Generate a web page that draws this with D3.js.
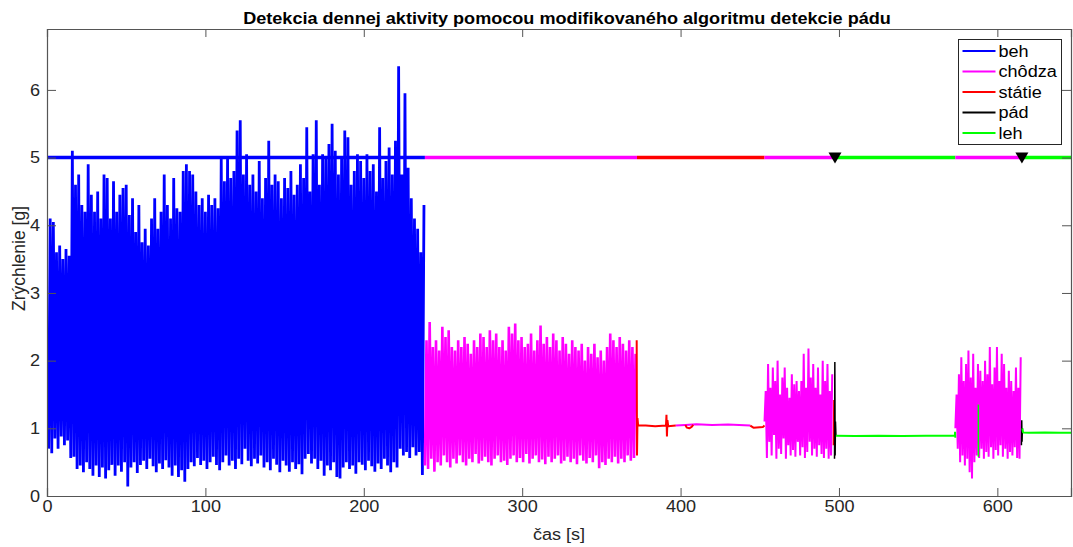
<!DOCTYPE html>
<html>
<head>
<meta charset="utf-8">
<script src="https://cdn.jsdelivr.net/npm/d3@7"></script>
<style>
    body { margin: 0; background: #fff; }
    text { font-family: "Liberation Sans", Arial, sans-serif; }
</style>
</head>
<body>
<svg id="chart" width="1073" height="547"></svg>
<script>
// activity classes (legend order)
const activities = ["beh", "chôdza", "státie", "pád", "leh"]
const activityColors = ["#0000ff", "#ff00ff", "#ff0000", "#000000", "#00ff00"]

// detected activity, drawn as the line at y = 5
const stateLevel = 5
const stateStart = [0, 238.6, 372.5, 453, 498, 573.5, 615.5]
const stateEnd = [238.6, 372.5, 453, 498, 573.5, 615.5, 646.5]
const stateActivity = [0, 1, 2, 1, 4, 1, 4]
const fallTimes = [497.5, 615.5]

// running: trough at start + i*step, peak half a step later
const behStart = 1, behStep = 2
const behPeaks = [
    4.1, 4.05, 3.6, 3.7, 3.5, 3.65, 3.55, 5.1, 4.6, 4.75,
    4.3, 4.2, 4.9, 4.45, 4.2, 4.5, 4.1, 4.75, 4.7, 4.1,
    4.65, 4.2, 4.45, 4.55, 4.6, 4.15, 4.4, 3.9, 4.3, 3.75,
    3.95, 3.7, 4.1, 4.4, 3.95, 4.2, 4.75, 4.3, 4.1, 4.7,
    4.25, 4.2, 4.8, 4.9, 4.8, 4.75, 4.5, 4.3, 4.4, 4.2,
    4.45, 4.3, 4.4, 4.25, 5.0, 4.65, 5.0, 4.7, 4.8, 5.4,
    5.55, 4.75, 5.05, 4.6, 4.75, 4.5, 4.95, 4.4, 4.7, 5.25,
    4.6, 4.75, 4.65, 4.4, 4.7, 4.55, 4.8, 4.45, 4.6, 4.9,
    4.7, 5.45, 4.5, 5.05, 5.55, 4.6, 5.05, 5.0, 5.2, 5.5,
    5.1, 4.75, 5.0, 5.4, 5.3, 4.6, 4.8, 5.05, 4.95, 4.7,
    5.05, 4.8, 4.9, 4.5, 5.45, 4.7, 4.95, 5.15, 4.75, 5.25,
    6.35, 4.75, 5.95, 4.85, 4.4, 4.1, 3.95, 3.6, 4.3
]
const behTroughs = [
    0.7, 0.63, 0.85, 0.7, 0.88, 0.75, 0.82, 0.56, 0.58, 0.4,
    0.45, 0.35, 0.5, 0.4, 0.3, 0.45, 0.28, 0.42, 0.26, 0.38,
    0.46, 0.3, 0.45, 0.36, 0.5, 0.14, 0.42, 0.5, 0.34, 0.46,
    0.52, 0.4, 0.55, 0.44, 0.35, 0.48, 0.4, 0.53, 0.42, 0.3,
    0.45, 0.28, 0.38, 0.21, 0.4, 0.5, 0.44, 0.56, 0.46, 0.52,
    0.4, 0.5, 0.58, 0.46, 0.38, 0.5, 0.6, 0.45, 0.52, 0.4,
    0.55, 0.47, 0.7, 0.52, 0.44, 0.55, 0.48, 0.6, 0.42, 0.5,
    0.38, 0.55, 0.46, 0.35, 0.52, 0.45, 0.36, 0.5, 0.4, 0.47,
    0.32, 0.55, 0.62, 0.48, 0.55, 0.4, 0.52, 0.3, 0.45, 0.38,
    0.5, 0.28, 0.26, 0.42, 0.5, 0.4, 0.45, 0.33, 0.5, 0.46,
    0.38, 0.52, 0.44, 0.36, 0.48, 0.4, 0.55, 0.45, 0.35, 0.5,
    0.42, 0.7, 0.6, 0.65, 0.56, 0.72, 0.6, 0.65, 0.31
]

// walking
const chodza1Start = 238.6, chodza1Step = 2
const chodza1Peaks = [
    2.3, 2.57, 2.2, 2.3, 2.15, 2.5, 2.35, 2.45, 2.2, 2.15,
    2.3, 2.2, 2.35, 2.25, 2.1, 2.3, 2.2, 2.4, 2.35, 2.2,
    2.45, 2.3, 2.4, 2.2, 2.3, 2.15, 2.5, 2.4, 2.55, 2.3,
    2.35, 2.2, 2.25, 2.4, 2.15, 2.3, 2.52, 2.25, 2.35, 2.2,
    2.4, 2.3, 2.15, 2.35, 2.25, 2.1, 2.3, 2.2, 2.15, 2.25,
    2.0, 2.2, 2.1, 2.25, 2.05, 2.15, 2.0, 2.2, 2.4, 2.3,
    2.2, 2.35, 2.25, 2.15, 2.3, 2.2, 2.1
]
const chodza1Troughs = [
    0.45, 0.4, 0.55, 0.36, 0.5, 0.45, 0.6, 0.5, 0.42, 0.55,
    0.48, 0.6, 0.5, 0.45, 0.55, 0.5, 0.62, 0.48, 0.52, 0.58,
    0.5, 0.45, 0.55, 0.6, 0.5, 0.52, 0.46, 0.55, 0.6, 0.5,
    0.56, 0.5, 0.62, 0.48, 0.55, 0.6, 0.5, 0.54, 0.47, 0.58,
    0.5, 0.55, 0.6, 0.48, 0.52, 0.58, 0.5, 0.55, 0.47, 0.6,
    0.52, 0.48, 0.56, 0.5, 0.6, 0.41, 0.5, 0.46, 0.55, 0.5,
    0.58, 0.48, 0.55, 0.5, 0.6, 0.52, 0.56
]

const chodza2Start = 453, chodza2Step = 1.5
const chodza2Peaks = [
    1.55, 1.95, 1.6, 1.9, 1.7, 2.0, 1.5, 1.75, 1.9, 1.6,
    1.45, 1.8, 1.65, 1.7, 1.55, 1.7, 2.1, 1.6, 2.18, 1.75,
    1.95, 1.6, 1.9, 1.5, 2.0, 1.7, 1.95, 1.55, 1.8
]
const chodza2Troughs = [
    1.1, 0.56, 0.8, 0.6, 0.9, 0.55, 0.7, 0.62, 0.85, 0.55,
    0.75, 0.6, 0.68, 0.58, 0.8, 0.6, 0.72, 0.56, 0.65, 0.8,
    0.6, 0.7, 0.58, 0.75, 0.62, 0.56, 0.7, 0.55, 0.6
]

const chodza3Start = 573.5, chodza3Step = 1.5
const chodza3Peaks = [
    1.5, 1.8, 2.05, 1.7, 1.95, 2.15, 1.75, 2.1, 1.6, 1.95,
    1.85, 1.7, 2.0, 1.8, 2.2, 1.65, 1.9, 2.2, 1.7, 2.1,
    1.95, 1.6, 1.85, 1.7, 1.55, 1.9, 1.6, 2.05
]
const chodza3Troughs = [
    1.0, 0.7, 0.5, 0.6, 0.45, 0.55, 0.35, 0.26, 0.5, 0.6,
    0.56, 0.7, 0.55, 0.65, 0.58, 0.72, 0.55, 0.68, 0.6, 0.75,
    0.58, 0.7, 0.55, 0.65, 0.6, 0.72, 0.56, 0.55
]

// quiet parts: sample times and values
const statie1Times = [372.3, 372.5, 372.8, 373.2, 378, 384, 390.8, 391.1, 391.4, 391.7, 392.2, 397]
const statie1Values = [2.3, 0.6, 1.15, 1.04, 1.04, 1.03, 1.04, 1.2, 0.88, 1.12, 1.03, 1.04]
const chodzaLowTimes = [397, 403, 410, 420, 430, 444]
const chodzaLowValues = [1.04, 1.05, 1.06, 1.05, 1.055, 1.04]
const statie2Times = [403, 404, 405.5, 407, 408]
const statie2Values = [1.05, 1.01, 1.0, 1.02, 1.05]
const statie3Times = [444, 446, 452, 453]
const statie3Values = [1.04, 1.01, 1.02, 1.04]
const statie4Times = [496.5, 496.8, 497.1]
const statie4Values = [0.75, 1.42, 0.9]
const pad1Times = [497.2, 497.4, 497.6, 497.8, 498.1]
const pad1Values = [0.55, 1.98, 0.6, 1.1, 0.89]
const leh1Times = [498.1, 510, 525, 540, 555, 573.2, 573.3, 573.5]
const leh1Values = [0.89, 0.885, 0.89, 0.885, 0.89, 0.89, 0.95, 0.86]
const leh2Times = [588, 588]
const leh2Values = [0.58, 1.35]
const pad2Times = [615.2, 615.4, 615.6, 615.8]
const pad2Values = [0.75, 1.12, 0.8, 1.0]
const leh3Times = [615.8, 616.2, 620, 630, 640, 646.5]
const leh3Values = [1.0, 0.94, 0.935, 0.94, 0.935, 0.935]

const xTicks = [0, 100, 200, 300, 400, 500, 600]
const yTicks = [0, 1, 2, 3, 4, 5, 6]

const titleText = "Detekcia dennej aktivity pomocou modifikovaného algoritmu detekcie pádu"
const xLabel = "čas [s]"
const yLabel = "Zrýchlenie [g]"

const margin = {top: 29, right: 2, bottom: 51, left: 47}
const width = 1073, height = 547
const stretch = 1.13   // text in the source figure is a bit wide

const svg = d3.select("#chart")

const x = d3.scaleLinear().domain([0, 646.5]).range([margin.left, width - margin.right])
const y = d3.scaleLinear().domain([0, 6.9]).range([height - margin.bottom, margin.top])

svg.append("defs").append("clipPath").attr("id", "plotClip")
    .append("rect")
    .attr("x", margin.left).attr("y", margin.top)
    .attr("width", x.range()[1] - margin.left)
    .attr("height", y.range()[0] - margin.top)

function zigzag(start, step, peaks, troughs){
    let pts = []
    peaks.forEach((p, i) => {
        pts.push([start + i * step, troughs[i]])
        pts.push([start + (i + 0.5) * step, p])
    })
    return pts
}

function pairs(times, values){
    return times.map((t, i) => [t, values[i]])
}

const traces = [
    {act: 0, pts: zigzag(behStart, behStep, behPeaks, behTroughs), w: 2.8},
    {act: 1, pts: zigzag(chodza1Start, chodza1Step, chodza1Peaks, chodza1Troughs), w: 2.6},
    {act: 2, pts: pairs(statie1Times, statie1Values), w: 2},
    {act: 1, pts: pairs(chodzaLowTimes, chodzaLowValues), w: 2},
    {act: 2, pts: pairs(statie2Times, statie2Values), w: 2},
    {act: 2, pts: pairs(statie3Times, statie3Values), w: 2},
    {act: 1, pts: zigzag(chodza2Start, chodza2Step, chodza2Peaks, chodza2Troughs), w: 2},
    {act: 2, pts: pairs(statie4Times, statie4Values), w: 1.5},
    {act: 3, pts: pairs(pad1Times, pad1Values), w: 1.5},
    {act: 4, pts: pairs(leh1Times, leh1Values), w: 2},
    {act: 1, pts: zigzag(chodza3Start, chodza3Step, chodza3Peaks, chodza3Troughs), w: 2},
    {act: 4, pts: pairs(leh2Times, leh2Values), w: 1.5},
    {act: 3, pts: pairs(pad2Times, pad2Values), w: 1.5},
    {act: 4, pts: pairs(leh3Times, leh3Values), w: 2}
]

const line = d3.line().x(d => x(d[0])).y(d => y(d[1]))

const plot = svg.append("g").attr("clip-path", "url(#plotClip)")

plot.selectAll("path.signal")
    .data(traces)
    .join("path")
    .attr("class", "signal")
    .attr("d", d => line(d.pts))
    .attr("fill", "none")
    .attr("stroke", d => activityColors[d.act])
    .attr("stroke-width", d => d.w)
    .attr("stroke-linejoin", "bevel")

// classification line
plot.selectAll("line.state")
    .data(stateStart)
    .join("line")
    .attr("class", "state")
    .attr("x1", d => x(d))
    .attr("x2", (d, i) => x(stateEnd[i]))
    .attr("y1", y(stateLevel))
    .attr("y2", y(stateLevel))
    .attr("stroke", (d, i) => activityColors[stateActivity[i]])
    .attr("stroke-width", 3.5)

// fall markers
plot.selectAll("path.fall")
    .data(fallTimes)
    .join("path")
    .attr("class", "fall")
    .attr("d", d => {
        const cx = x(d), cy = y(stateLevel)
        return `M${cx - 6.5},${cy - 5}L${cx + 6.5},${cy - 5}L${cx},${cy + 6}Z`
    })
    .attr("fill", "#000")

// axes
const axisColor = "#262626"
const gx = svg.append("g")
    .attr("transform", `translate(0,${y.range()[0]})`)
    .call(d3.axisBottom(x).tickValues(xTicks).tickSize(-8).tickPadding(5))
const gxTop = svg.append("g")
    .attr("transform", `translate(0,${margin.top})`)
    .call(d3.axisTop(x).tickValues(xTicks).tickSize(-8).tickFormat(""))
const gy = svg.append("g")
    .attr("transform", `translate(${margin.left},0)`)
    .call(d3.axisLeft(y).tickValues(yTicks).tickSize(-9).tickFormat(d3.format("d")))
const gyRight = svg.append("g")
    .attr("transform", `translate(${x.range()[1]},0)`)
    .call(d3.axisRight(y).tickValues(yTicks).tickSize(-9).tickFormat(""))

for (const g of [gx, gxTop, gy, gyRight]) {
    g.select(".domain").attr("stroke", "#555").attr("stroke-width", 1.2)
    g.selectAll(".tick line").attr("stroke", "#555")
    g.selectAll(".tick text")
        .attr("fill", axisColor)
        .style("font-size", "16px")
        .style("font-family", "'Liberation Sans', Arial, sans-serif")
}
gx.selectAll(".tick text").attr("transform", `scale(${stretch},1)`)
gy.selectAll(".tick text")
    .attr("x", -7 / stretch)
    .attr("transform", `scale(${stretch},1)`)

svg.append("text")
    .attr("transform", `translate(${(margin.left + x.range()[1]) / 2 + 8},24) scale(${stretch},1)`)
    .attr("text-anchor", "middle")
    .style("font-size", "16px")
    .style("font-weight", "bold")
    .attr("fill", "#000")
    .text(titleText)

svg.append("text")
    .attr("transform", `translate(${(margin.left + x.range()[1]) / 2},540) scale(${stretch},1)`)
    .attr("text-anchor", "middle")
    .style("font-size", "16px")
    .attr("fill", axisColor)
    .text(xLabel)

svg.append("text")
    .attr("transform", `translate(25,${(margin.top + y.range()[0]) / 2 - 4}) rotate(-90)`)
    .attr("text-anchor", "middle")
    .style("font-size", "17.5px")
    .attr("fill", axisColor)
    .text(yLabel)

// legend
const legend = svg.append("g").attr("transform", "translate(958.5,39.5)")
legend.append("rect")
    .attr("width", 103).attr("height", 105)
    .attr("fill", "#fff").attr("stroke", axisColor).attr("stroke-width", 1)

const legendRows = legend.selectAll("g.row")
    .data(activities)
    .join("g")
    .attr("class", "row")
    .attr("transform", (d, i) => `translate(0,${11.5 + i * 20.5})`)

legendRows.append("line")
    .attr("x1", 4).attr("x2", 37)
    .attr("stroke", (d, i) => activityColors[i])
    .attr("stroke-width", 2)

legendRows.append("text")
    .attr("transform", `translate(40,0) scale(${stretch},1)`)
    .attr("dy", "0.36em")
    .style("font-size", "16px")
    .attr("fill", "#000")
    .text(d => d)
</script>
</body>
</html>
